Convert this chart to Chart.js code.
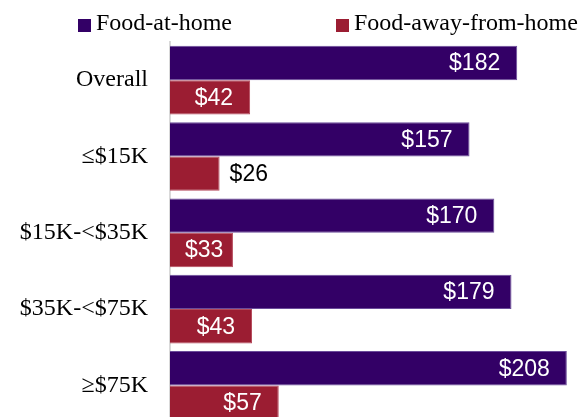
<!DOCTYPE html>
<html>
<head>
<style>
  html, body { margin: 0; padding: 0; background: #fff; overflow: hidden; }
  #wrap { width: 584px; height: 460px; }
</style>
</head>
<body>
<div id="wrap">
  <canvas id="myChart" width="584" height="460"></canvas>
</div>

<script src="https://cdn.jsdelivr.net/npm/chart.js"></script>

<script>
  const categories = ['Overall', '≤$15K', '$15K-<$35K', '$35K-<$75K', '≥$75K'];
  const foodAtHome = [182, 157, 170, 179, 208];
  const foodAway = [42, 26, 33, 43, 57];
  const seriesNames = ['Food-at-home', 'Food-away-from-home'];

  const PURPLE = '#330066';
  const RED = '#9b1d32';

  // value labels: inside the bar end in white, outside in black when the bar is too short
  const valueLabels = {
    id: 'valueLabels',
    afterDatasetsDraw(chart) {
      const ctx = chart.ctx;
      ctx.save();
      ctx.font = '23px "Liberation Sans", Arial, sans-serif';
      ctx.textBaseline = 'middle';
      chart.data.datasets.forEach((ds, i) => {
        chart.getDatasetMeta(i).data.forEach((bar, j) => {
          const txt = '$' + ds.data[j];
          const w = ctx.measureText(txt).width;
          const len = bar.x - bar.base;
          if (len < w + 17) {
            ctx.fillStyle = '#000';
            ctx.textAlign = 'left';
            ctx.fillText(txt, bar.x + 10, bar.y + 1);
          } else {
            ctx.fillStyle = '#fff';
            ctx.textAlign = 'right';
            const xEnd = Math.max(bar.x - 17, bar.base + 15 + w);
            ctx.fillText(txt, xEnd, bar.y + 1);
          }
        });
      });
      ctx.restore();
    }
  };

  const topLegend = {
    id: 'topLegend',
    afterDraw(chart) {
      const ctx = chart.ctx;
      ctx.save();
      ctx.font = '24px "Liberation Serif", "Times New Roman", serif';
      ctx.textBaseline = 'middle';
      ctx.textAlign = 'left';
      const spots = [78, 336];
      chart.data.datasets.forEach((ds, i) => {
        ctx.fillStyle = ds.backgroundColor;
        ctx.fillRect(spots[i], 19, 13, 13);
        ctx.fillStyle = '#000';
        ctx.fillText(seriesNames[i], spots[i] + 18, 24);
      });
      ctx.restore();
    }
  };

  const ctx = document.getElementById('myChart');

  new Chart(ctx, {
    type: 'bar',
    data: {
      labels: categories,
      datasets: [{
        label: seriesNames[0],
        data: foodAtHome,
        backgroundColor: PURPLE,
        borderColor: '#6b4c9a',
        borderWidth: 1,
        categoryPercentage: 0.9,
        barPercentage: 1.0
      }, {
        label: seriesNames[1],
        data: foodAway,
        backgroundColor: RED,
        borderColor: '#b5495b',
        borderWidth: 1,
        categoryPercentage: 0.9,
        barPercentage: 1.0
      }]
    },
    options: {
      indexAxis: 'y',
      responsive: false,
      animation: false,
      layout: { padding: { top: 42, bottom: 6, right: 0, left: 0 } },
      plugins: {
        legend: { display: false },
        tooltip: { enabled: false }
      },
      scales: {
        x: {
          display: false,
          min: 0,
          max: 217
        },
        y: {
          afterFit(scale) { scale.width = 170; },
          grid: { display: false, drawTicks: false },
          border: { display: true, color: '#d9d9d9', width: 2 },
          ticks: {
            padding: 22,
            color: '#000',
            font: { family: '"Liberation Serif", "Times New Roman", serif', size: 24 }
          }
        }
      }
    },
    plugins: [valueLabels, topLegend]
  });
</script>
</body>
</html>
